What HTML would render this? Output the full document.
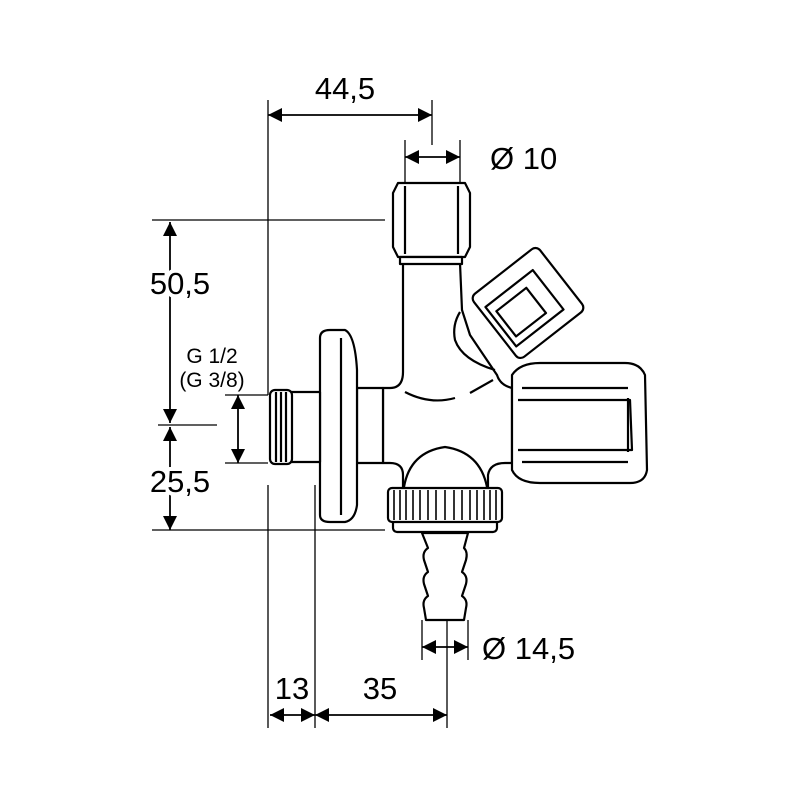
<!DOCTYPE html>
<html><head><style>html,body{margin:0;padding:0;background:#fff}svg{display:block}</style></head>
<body>
<svg width="800" height="800" viewBox="0 0 800 800" xmlns="http://www.w3.org/2000/svg">
<defs>
<marker id="a" viewBox="0 0 10 10" refX="10" refY="5" markerWidth="14" markerHeight="14" markerUnits="userSpaceOnUse" orient="auto-start-reverse"><path d="M0,0 L10,5 L0,10 z" fill="#000"/></marker>
</defs>
<g stroke="#000" stroke-width="1.3" fill="none">
<line x1="268" y1="100" x2="268" y2="395"/>
<line x1="268" y1="485" x2="268" y2="728"/>
<line x1="315" y1="485" x2="315" y2="728"/>
<line x1="447" y1="620" x2="447" y2="728"/>
<line x1="432" y1="100" x2="432" y2="145"/>
<line x1="405" y1="140" x2="405" y2="182"/>
<line x1="460" y1="140" x2="460" y2="182"/>
<line x1="422" y1="620" x2="422" y2="660"/>
<line x1="468" y1="620" x2="468" y2="660"/>
<line x1="152" y1="220" x2="385" y2="220"/>
<line x1="152" y1="530" x2="385" y2="530"/>
<line x1="158" y1="425" x2="217" y2="425"/>
<line x1="225" y1="395" x2="268" y2="395"/>
<line x1="225" y1="463" x2="268" y2="463"/>
</g>
<g stroke="#000" stroke-width="1.8" fill="none">
<line x1="268" y1="115" x2="432" y2="115" marker-start="url(#a)" marker-end="url(#a)"/>
<line x1="405" y1="157" x2="460" y2="157" marker-start="url(#a)" marker-end="url(#a)"/>
<line x1="170" y1="222" x2="170" y2="423" marker-start="url(#a)" marker-end="url(#a)"/>
<line x1="170" y1="427" x2="170" y2="530" marker-start="url(#a)" marker-end="url(#a)"/>
<line x1="238" y1="395" x2="238" y2="463" marker-start="url(#a)" marker-end="url(#a)"/>
<line x1="422" y1="647" x2="468" y2="647" marker-start="url(#a)" marker-end="url(#a)"/>
<line x1="270" y1="715" x2="315" y2="715" marker-start="url(#a)" marker-end="url(#a)"/>
<line x1="315" y1="715" x2="447" y2="715" marker-start="url(#a)" marker-end="url(#a)"/>
</g>
<g font-family="Liberation Sans, sans-serif" fill="#000" stroke="#fff" stroke-width="8" paint-order="stroke" stroke-linejoin="round">
<text x="345" y="99" font-size="31" text-anchor="middle">44,5</text>
<text x="490" y="169" font-size="31">Ø 10</text>
<text x="180" y="294" font-size="31" text-anchor="middle">50,5</text>
<text x="180" y="492" font-size="31" text-anchor="middle">25,5</text>
<text x="212" y="363" font-size="21" text-anchor="middle" stroke-width="0">G 1/2</text>
<text x="212" y="387" font-size="21" text-anchor="middle" stroke-width="0">(G 3/8)</text>
<text x="482" y="659" font-size="31">Ø 14,5</text>
<text x="292" y="699" font-size="31" text-anchor="middle">13</text>
<text x="380" y="699" font-size="31" text-anchor="middle">35</text>
</g>
<g stroke="#000" stroke-width="2.2" fill="#fff" stroke-linejoin="round">
<path d="M403,263 L403,372 Q403,388 390,388 L383,388 L383,463 L390,463 Q403,463 403,475 L403,487 L488,487 L488,475 Q490,463 505,463 L512,463 L512,388 Q500,385 497,375 L470,335 L462,310 L460,263 Z"/>
<path d="M405,392 Q430,405 455,398" fill="none"/>
<path d="M470,393 L493,380" fill="none"/>
<path d="M460,312 Q452,325 455,340 Q462,360 495,370" fill="none"/>
<path d="M404,487 Q410,452 445,447 Q480,452 487,487"/>
<path d="M398,183 L465,183 L470,193 L470,247 L465,257 L398,257 L393,247 L393,193 Z"/>
<line x1="405" y1="186" x2="405" y2="254"/><line x1="458" y1="186" x2="458" y2="254"/>
<rect x="400" y="257" width="62" height="7"/>
<g transform="rotate(-38 528 303)">
<rect x="486" y="263" width="84" height="80" rx="6"/>
<rect x="492" y="280" width="60" height="50"/>
<rect x="498" y="290" width="38" height="32"/>
</g>
<path d="M512,375 Q520,363 540,363 L625,363 Q640,363 645,375 L647,470 Q645,483 630,483 L540,483 Q518,483 512,470 Z"/>
<path d="M518,400 L630,400 L632,450 L518,450" fill="none"/>
<line x1="628" y1="398" x2="628" y2="452"/>
<line x1="522" y1="388" x2="628" y2="388"/>
<line x1="522" y1="462" x2="628" y2="462"/>
<rect x="357" y="388" width="26" height="75"/>
<path d="M320,338 Q320,330 330,330 L345,330 Q355,335 357,370 L357,505 Q355,520 345,522 L330,522 Q320,522 320,515 Z"/>
<line x1="341" y1="338" x2="341" y2="515"/>
<rect x="290" y="392" width="30" height="70"/>
<rect x="270" y="390" width="22" height="74" rx="5"/>
<line x1="276" y1="392" x2="276" y2="462"/><line x1="281" y1="392" x2="281" y2="462"/><line x1="286" y1="392" x2="286" y2="462"/>
<path d="M422,533 L468,533 L464,548 Q468,552 466,560 L462,572 Q468,576 466,584 L462,596 Q468,600 466,608 L464,620 L426,620 L424,608 Q422,600 428,596 L424,584 Q422,576 428,572 L424,560 Q422,552 428,548 Z"/>
<rect x="393" y="518" width="104" height="14" rx="4"/>
<rect x="388" y="488" width="114" height="34" rx="4"/>
</g>
<g stroke="#000" stroke-width="1.6">
<line x1="394" y1="490" x2="394" y2="520"/><line x1="400" y1="490" x2="400" y2="520"/><line x1="406" y1="490" x2="406" y2="520"/><line x1="413" y1="490" x2="413" y2="520"/><line x1="420" y1="490" x2="420" y2="520"/><line x1="428" y1="490" x2="428" y2="520"/><line x1="436" y1="490" x2="436" y2="520"/><line x1="445" y1="490" x2="445" y2="520"/><line x1="454" y1="490" x2="454" y2="520"/><line x1="462" y1="490" x2="462" y2="520"/><line x1="470" y1="490" x2="470" y2="520"/><line x1="477" y1="490" x2="477" y2="520"/><line x1="484" y1="490" x2="484" y2="520"/><line x1="490" y1="490" x2="490" y2="520"/><line x1="496" y1="490" x2="496" y2="520"/>
</g>
</svg>
</body></html>
